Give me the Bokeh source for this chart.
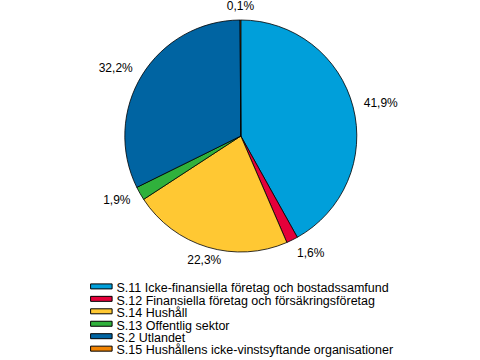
import math
from bokeh.plotting import figure
from bokeh.models import ColumnDataSource, Range1d
from bokeh.core.properties import value
from bokeh.embed import file_html
from bokeh.resources import INLINE

categories = [
    "S.11 Icke-finansiella företag och bostadssamfund",
    "S.12 Finansiella företag och försäkringsföretag",
    "S.14 Hushåll",
    "S.13 Offentlig sektor",
    "S.2 Utlandet",
    "S.15 Hushållens icke-vinstsyftande organisationer",
]
shares = [41.9, 1.6, 22.3, 1.9, 32.2, 0.1]
labels = ["41,9%", "1,6%", "22,3%", "1,9%", "32,2%", "0,1%"]
colors = ["#009fda", "#e5003a", "#ffc833", "#30b13c", "#0064a2", "#f28300"]

RADIUS = 116
LABEL_RX = 127
LABEL_RY = 130
FONT = "Liberation Sans"

total = sum(shares)
starts, ends, lx, ly, aligns = [], [], [], [], []
cum = 0.0
for s in shares:
    f0 = cum / total
    f1 = (cum + s) / total
    starts.append(math.pi / 2 - 2 * math.pi * f0)
    ends.append(math.pi / 2 - 2 * math.pi * f1)
    mid = 2 * math.pi * (f0 + f1) / 2
    sx, cy = math.sin(mid), math.cos(mid)
    lx.append(LABEL_RX * sx)
    ly.append(LABEL_RY * cy)
    aligns.append("left" if sx > 0.3 else ("right" if sx < -0.3 else "center"))
    cum += s

src = ColumnDataSource(dict(start=starts, end=ends, color=colors,
                            lx=lx, ly=ly, lab=labels, align=aligns))

p = figure(width=480, height=360, output_backend="svg", toolbar_location=None,
           x_range=Range1d(-240.3, 239.7), y_range=Range1d(-224.5, 135.5),
           min_border=0)
p.axis.visible = False
p.grid.visible = False
p.outline_line_color = None

p.wedge(x=0, y=0, radius=RADIUS, start_angle="start", end_angle="end",
        direction="clock", fill_color="color", line_color="black",
        line_width=0.8, source=src)

p.text(x="lx", y="ly", text="lab", source=src, text_align="align",
       text_baseline="middle", text_font=value(FONT), text_font_size="12px",
       text_color="black")

# legend (drawn in pixel-equivalent data units)
LEG_BASE = -152.2
LEG_STEP = 12.45
LEG_SW_X = -139.45
LEG_SW_W = 21.5
LEG_SW_H = 5
LEG_TX_X = -124.3
n = len(categories)
leg = ColumnDataSource(dict(
    sx=[LEG_SW_X] * n,
    sy=[LEG_BASE - LEG_STEP * i + 1.8 for i in range(n)],
    tx=[LEG_TX_X] * n,
    ty=[LEG_BASE - LEG_STEP * i for i in range(n)],
    color=colors, cat=categories))
p.rect(x="sx", y="sy", width=LEG_SW_W, height=LEG_SW_H, fill_color="color",
       line_color="black", line_width=1, source=leg)
p.text(x="tx", y="ty", text="cat", source=leg, text_align="left",
       text_baseline="alphabetic", text_font=value(FONT),
       text_font_size="12.5px", text_color="black")

open("out.html", "w").write(file_html(p, INLINE))
